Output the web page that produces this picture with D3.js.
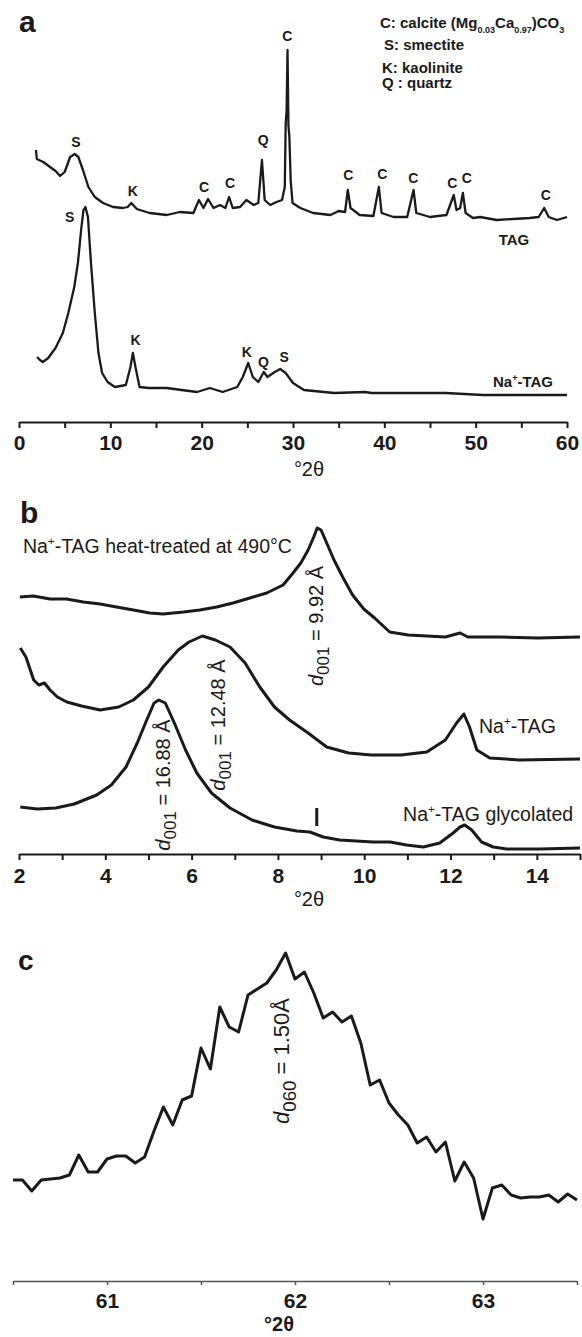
<!DOCTYPE html>
<html>
<head>
<meta charset="utf-8">
<script src="https://cdn.jsdelivr.net/npm/d3@7"></script>
<style>
body { margin: 0; background: #fff; }
svg { display: block; font-family: 'Liberation Sans', Arial, sans-serif; }
</style>
</head>
<body>
<div class="main"></div>
<script>
// panel a - bulk sample vs Na-exchanged
const tagX = [1.86, 1.95, 2.66, 3.4, 4.0, 4.5, 5.0, 5.6, 6.1, 6.5, 7.0, 7.6, 8.3, 9.2, 10.3, 11.4, 11.9, 12.3, 12.9, 14.3, 16.2, 17.6, 19.1, 19.7, 20.2, 20.7, 21.3, 22.0, 22.6, 23.0, 23.4, 24.2, 24.9, 25.7, 26.2, 26.6, 26.9, 27.5, 28.2, 28.8, 29.1, 29.2, 29.3, 29.4, 29.5, 29.6, 29.75, 29.95, 30.8, 32.2, 34.1, 35.0, 35.7, 36.0, 36.3, 37.3, 38.8, 39.4, 39.7, 41.0, 42.5, 43.2, 43.5, 45.0, 46.8, 47.6, 47.9, 48.3, 48.6, 48.9, 49.7, 50.5, 52.3, 54.1, 55.9, 56.9, 57.5, 58.0, 58.9, 60.0],
tagY = [271, 262, 259, 254, 250, 245, 249, 264, 267, 264, 251, 234, 224, 218, 214, 213, 214, 218, 212, 208, 206, 209, 208, 221, 213, 222, 213, 216, 213, 224, 213, 214, 221, 216, 218, 261, 221, 216, 219, 221, 234, 298, 310, 371, 295, 285, 240, 218, 213, 208, 206, 210, 209, 231, 213, 206, 205, 234, 208, 204, 204, 231, 208, 204, 206, 226, 211, 213, 228, 208, 203, 204, 201, 202, 203, 204, 213, 204, 201, 204];

const naX = [1.98, 2.3, 2.6, 3.2, 4.0, 4.8, 5.4, 6.05, 6.45, 6.8, 7.06, 7.27, 7.55, 7.88, 8.3, 8.7, 9.1, 9.7, 10.5, 11.7, 12.2, 12.47, 12.75, 13.2, 14.2, 16.2, 17.8, 19.5, 20.9, 22.3, 23.9, 24.5, 25.1, 25.6, 26.2, 26.8, 27.2, 28.0, 28.6, 29.2, 30.0, 31.2, 34.5, 37.9, 38.6, 42.6, 46.7, 50.8, 54.8, 60.0],
naY = [64, 61, 59, 63, 73, 88, 108, 134, 158, 191, 211, 214, 204, 158, 108, 68, 48, 39, 34, 36, 54, 68, 54, 34, 33, 33, 31, 29, 33, 29, 34, 44, 58, 44, 39, 49, 44, 49, 52, 48, 38, 31, 28, 29, 28, 28, 28, 26, 26, 26];

const peakText = ['S', 'K', 'C', 'C', 'Q', 'C', 'C', 'C', 'C', 'C', 'C', 'C', 'S', 'K', 'K', 'Q', 'S'],
peakX = [6.24, 12.45, 20.26, 23.1, 26.75, 29.38, 36.06, 39.78, 43.17, 47.44, 49.02, 57.67, 5.56, 12.76, 24.94, 26.77, 29.02],
peakY = [279, 230, 234, 238, 281, 385, 246, 247, 243, 238, 243, 226, 204, 81, 69, 59, 64];

const ticksA = [0, 5, 10, 15, 20, 25, 30, 35, 40, 45, 50, 55, 60];

// panel b - oriented mounts
const heatX = [2.02, 2.33, 2.72, 3.1, 3.49, 3.88, 4.26, 4.65, 5.03, 5.34, 5.81, 6.19, 6.58, 6.96, 7.35, 7.74, 8.12, 8.35, 8.53, 8.7, 8.83, 8.91, 9.0, 9.13, 9.3, 9.5, 9.73, 9.99, 10.24, 10.59, 11.02, 11.88, 12.22, 12.4, 13.17, 14.03, 15.0],
heatY = [263, 264, 261, 261, 258, 256, 253, 250, 247, 246, 248, 250, 253, 257, 262, 267, 275, 287, 297, 310, 323, 332, 330, 317, 300, 283, 265, 251, 242, 228, 225, 223, 227, 223, 223, 222, 223];

const naBX = [2.03, 2.16, 2.34, 2.46, 2.59, 2.72, 2.89, 3.11, 3.45, 3.88, 4.31, 4.65, 5.0, 5.34, 5.69, 5.94, 6.25, 6.55, 6.89, 7.24, 7.58, 7.92, 8.27, 8.7, 9.13, 9.64, 10.16, 10.85, 11.45, 11.88, 12.14, 12.31, 12.44, 12.61, 12.91, 13.6, 15.0],
naBY = [212, 203, 180, 175, 177, 170, 163, 158, 154, 150, 153, 160, 173, 193, 210, 218, 224, 220, 213, 197, 173, 153, 140, 127, 113, 107, 105, 105, 108, 120, 137, 146, 133, 110, 102, 100, 101];

const glyX = [2.03, 2.42, 2.85, 3.28, 3.8, 4.14, 4.48, 4.74, 4.96, 5.13, 5.24, 5.39, 5.6, 5.86, 6.12, 6.46, 6.89, 7.4, 7.92, 8.44, 8.74, 9.05, 9.43, 10.2, 10.6, 10.98, 11.37, 11.75, 12.06, 12.22, 12.33, 12.49, 12.72, 12.99, 13.3, 14.07, 15.0],
glyY = [53, 51, 52, 56, 65, 75, 93, 117, 140, 157, 160, 157, 137, 110, 87, 67, 52, 40, 33, 29, 28, 23, 20, 18, 18, 15, 13, 17, 27, 33, 35, 30, 18, 13, 11, 11, 12];

const dValues = ['9.92', '12.48', '16.88'],
dX = [9.05, 6.77, 5.5],
dY = [234, 135, 75];

const markB = [8.9, 34, 52];
const ticksB = [2, 3, 4, 5, 6, 7, 8, 9, 10, 11, 12, 13, 14, 15];

// panel c - 060 region
const cX = [60.5, 60.55, 60.6, 60.65, 60.7, 60.75, 60.8, 60.85, 60.9, 60.95, 61.0, 61.05, 61.1, 61.15, 61.2, 61.25, 61.3, 61.35, 61.4, 61.45, 61.5, 61.55, 61.6, 61.65, 61.7, 61.75, 61.8, 61.85, 61.9, 61.95, 62.0, 62.05, 62.1, 62.15, 62.2, 62.25, 62.3, 62.35, 62.4, 62.45, 62.5, 62.55, 62.6, 62.65, 62.7, 62.75, 62.8, 62.85, 62.9, 62.95, 63.0, 63.05, 63.1, 63.15, 63.2, 63.25, 63.3, 63.35, 63.4, 63.45, 63.5],
cY = [80, 80, 69, 80, 81, 82, 85, 105, 88, 88, 101, 104, 104, 97, 103, 129, 153, 135, 160, 164, 212, 191, 253, 233, 228, 265, 271, 277, 290, 307, 281, 288, 267, 242, 248, 238, 244, 217, 175, 180, 157, 145, 135, 117, 123, 108, 118, 79, 98, 82, 41, 72, 75, 65, 62, 63, 63, 65, 58, 66, 60];

const ticksC = [60.5, 61, 61.5, 62, 62.5, 63, 63.5];

const w = 582, h = 1337, ink = '#1a1a1a';

const svg = d3.select('.main')
            .append('svg')
            .attr('width', w)
            .attr('height', h)

function richText(sel, parts, size) {
    let shift = 0
    parts.forEach(p => {
        const k = p[1] || ''
        let s = 0, fs = null
        if (k === 'sub') { s = size * 0.3; fs = size * 0.6 }
        if (k === 'dsub') { s = size * 0.3; fs = size * 0.85 }
        if (k === 'sup') { s = -size * 0.4; fs = size * 0.6 }
        const t = sel.append('tspan').text(p[0]).attr('dy', s - shift)
        if (fs) t.attr('font-size', fs)
        if (k === 'i') t.attr('font-style', 'italic')
        shift = s
    })
}

function drawAxis(g, scale, ticks, labelled, y, color, width, size, ty, len) {
    g.attr('transform', `translate(0,${y})`)
        .call(d3.axisBottom(scale)
            .tickValues(ticks)
            .tickSize(len)
            .tickSizeOuter(0)
            .tickFormat(d => labelled(d) ? d : ''))
    g.select('.domain').attr('stroke', color).attr('stroke-width', width)
    g.selectAll('.tick line').attr('stroke', color).attr('stroke-width', width)
    g.selectAll('.tick text')
        .attr('y', ty)
        .attr('fill', ink)
        .attr('font-size', size)
        .attr('font-weight', 'bold')
        .attr('font-family', "'Liberation Sans', Arial, sans-serif")
}

function trace(g, xs, ys, x, y, width) {
    g.append('path')
        .datum(xs.map((d, i) => [d, ys[i]]))
        .attr('fill', 'none')
        .attr('stroke', ink)
        .attr('stroke-width', width)
        .attr('stroke-linejoin', 'round')
        .attr('d', d3.line().x(d => x(d[0])).y(d => y(d[1])))
}

// ---- a
const xA = d3.scaleLinear().domain([0, 60]).range([19, 567]),
yA = d3.scaleLinear().domain([0, 400]).range([421, 21]);

const a = svg.append('g').attr('class', 'panel-a')

a.append('text').text('a')
    .attr('x', 19).attr('y', 32)
    .attr('font-size', 30).attr('font-weight', 'bold').attr('fill', ink)

trace(a, tagX, tagY, xA, yA, 2.3)
trace(a, naX, naY, xA, yA, 2.3)

a.selectAll('.peak')
    .data(peakText)
    .enter()
    .append('text')
    .attr('class', 'peak')
    .text(d => d)
    .attr('x', (d, i) => xA(peakX[i]))
    .attr('y', (d, i) => yA(peakY[i]))
    .attr('dy', '0.36em')
    .attr('text-anchor', 'middle')
    .attr('font-size', 14)
    .attr('font-weight', 'bold')
    .attr('fill', ink)

a.append('text').text('TAG')
    .attr('x', xA(54.2)).attr('y', yA(181)).attr('dy', '0.36em')
    .attr('text-anchor', 'middle')
    .attr('font-size', 15).attr('font-weight', 'bold').attr('fill', ink)

richText(a.append('text')
    .attr('x', xA(55.18)).attr('y', yA(39) + 5)
    .attr('text-anchor', 'middle')
    .attr('font-size', 15).attr('font-weight', 'bold').attr('fill', ink),
    [['Na'], ['+', 'sup'], ['-TAG']], 15)

const legendLines = [
    [['C: calcite (Mg'], ['0.03', 'sub'], ['Ca'], ['0.97', 'sub'], [')CO'], ['3', 'sub']],
    [['S: smectite']],
    [['K: kaolinite']],
    [['Q : quartz']]
],
legendX = [380, 384, 382, 382],
legendBase = [28, 50, 72.5, 88];

legendLines.forEach((parts, i) => {
    const t = a.append('text')
        .attr('x', legendX[i]).attr('y', legendBase[i])
        .attr('font-size', 15).attr('font-weight', 'bold').attr('fill', ink)
    richText(t, parts, 15)
})

drawAxis(a.append('g'), xA, ticksA, d => d % 10 === 0, 422, ink, 2, 21, 13, 6)

a.append('text').text('°2θ')
    .attr('x', 309).attr('y', 476)
    .attr('text-anchor', 'middle')
    .attr('font-size', 20).attr('fill', ink)

// ---- b
const xB = d3.scaleLinear().domain([2, 15]).range([19, 580]),
yB = d3.scaleLinear().domain([0, 360]).range([860, 500]);

const b = svg.append('g').attr('class', 'panel-b')

b.append('text').text('b')
    .attr('x', 20).attr('y', 523)
    .attr('font-size', 30).attr('font-weight', 'bold').attr('fill', ink)

trace(b, heatX, heatY, xB, yB, 3)
trace(b, naBX, naBY, xB, yB, 3)
trace(b, glyX, glyY, xB, yB, 3)

b.append('line')
    .attr('x1', xB(markB[0])).attr('x2', xB(markB[0]))
    .attr('y1', yB(markB[1])).attr('y2', yB(markB[2]))
    .attr('stroke', ink).attr('stroke-width', 3)

const bLabels = [
    [['Na'], ['+', 'sup'], ['-TAG heat-treated at 490°C']],
    [['Na'], ['+', 'sup'], ['-TAG']],
    [['Na'], ['+', 'sup'], ['-TAG glycolated']]
],
bLabelX = [2.09, 12.66, 10.9],
bLabelY = [307, 127, 39];

bLabels.forEach((parts, i) => {
    const t = b.append('text')
        .attr('x', xB(bLabelX[i])).attr('y', yB(bLabelY[i]))
        .attr('font-size', 19.5).attr('fill', ink)
    richText(t, parts, 19.5)
})

dValues.forEach((v, i) => {
    const t = b.append('text')
        .attr('transform', `translate(${xB(dX[i])},${yB(dY[i])}) rotate(-90)`)
        .attr('text-anchor', 'middle')
        .attr('font-size', 20).attr('fill', ink)
    richText(t, [['d', 'i'], ['001', 'dsub'], [' = ' + v + ' Å']], 20)
})

drawAxis(b.append('g'), xB, ticksB, d => d % 2 === 0, 854, ink, 2, 21, 14, 6)

b.append('text').text('°2θ')
    .attr('x', 309).attr('y', 906)
    .attr('text-anchor', 'middle')
    .attr('font-size', 20).attr('fill', ink)

// ---- c
const xC = d3.scaleLinear().domain([60.5, 63.5]).range([13, 577]),
yC = d3.scaleLinear().domain([0, 320]).range([1260, 940]);

const c = svg.append('g').attr('class', 'panel-c')

c.append('text').text('c')
    .attr('x', 18).attr('y', 970)
    .attr('font-size', 28).attr('font-weight', 'bold').attr('fill', ink)

trace(c, cX, cY, xC, yC, 3)

richText(c.append('text')
    .attr('transform', `translate(${xC(61.97)},${yC(199)}) rotate(-90)`)
    .attr('text-anchor', 'middle')
    .attr('font-size', 22).attr('fill', ink),
    [['d', 'i'], ['060', 'dsub'], [' = 1.50Å']], 22)

drawAxis(c.append('g'), xC, ticksC, d => Number.isInteger(d), 1281, '#555', 1.5, 21, 12, 4)

c.append('text').text('°2θ')
    .attr('x', 279).attr('y', 1331)
    .attr('text-anchor', 'middle')
    .attr('font-size', 20).attr('font-weight', 'bold').attr('fill', ink)
</script>
</body>
</html>
